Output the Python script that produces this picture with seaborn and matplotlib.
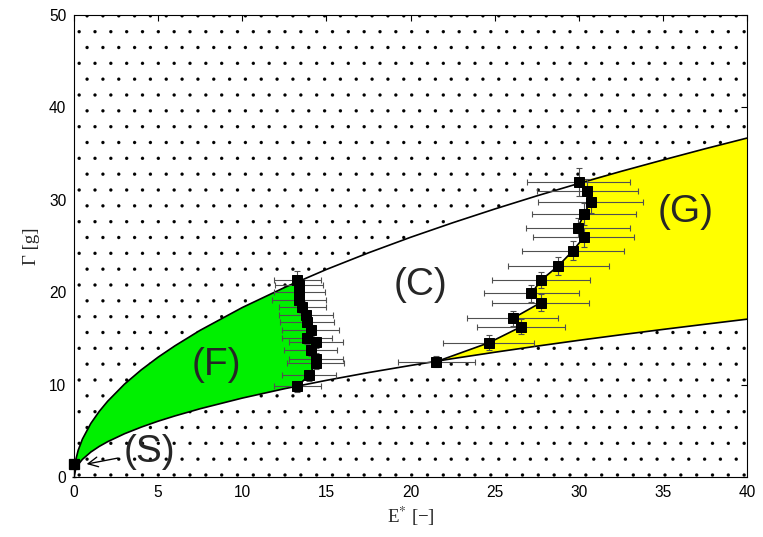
import numpy as np
import matplotlib
matplotlib.use("Agg")
import matplotlib.pyplot as plt
import seaborn as sns

# Boundary curves of the regime band (Gamma vs E*)
x_curve = [0, 0.1, 0.25, 0.5, 1, 1.5, 2, 3, 4, 5, 6, 7.5, 10, 12.5, 15, 17.5,
           20, 22.5, 25, 27.5, 30, 32.5, 35, 37.5, 40]
upper_curve = [0, 1.83, 2.9, 4.1, 5.8, 7.1, 8.2, 10.05, 11.6, 12.97, 14.2, 15.88,
               18.34, 20.5, 22.46, 24.26, 25.94, 27.51, 29.0, 30.42, 31.77,
               33.07, 34.31, 35.52, 36.68]
lower_curve = [0, 0.85, 1.35, 1.91, 2.7, 3.31, 3.82, 4.68, 5.4, 6.04, 6.61, 7.39,
               8.54, 9.55, 10.46, 11.3, 12.07, 12.81, 13.5, 14.16, 14.79, 15.39,
               15.97, 16.53, 17.08]

# F/C transition measurements (top to bottom)
x_fc = [13.27, 13.37, 13.40, 13.37, 13.57, 13.77, 13.86, 14.06, 13.86, 14.36,
        14.06, 14.36, 14.36, 13.96, 13.27]
y_fc = [21.3, 20.8, 20.05, 19.2, 18.4, 17.5, 16.8, 15.9, 15.0, 14.6, 13.7,
        12.8, 12.3, 11.0, 9.8]
xerr_fc = [1.4, 1.4, 1.5, 1.6, 1.4, 1.6, 1.6, 1.7, 1.5, 1.6, 1.6, 1.6, 1.7, 1.6, 1.4]
yerr_fc = [1.0, 0.6, 0.6, 0.6, 0.6, 0.6, 0.6, 0.6, 0.6, 0.6, 0.6, 0.6, 0.6, 0.6, 0.6]

# C/G transition measurements (bottom to top)
x_cg = [21.53, 24.66, 26.58, 26.08, 27.73, 27.19, 27.77, 28.78, 29.65, 30.30,
        29.95, 30.32, 30.70, 30.50, 30.00]
y_cg = [12.48, 14.53, 16.27, 17.17, 18.86, 19.88, 21.32, 22.84, 24.49, 25.94,
        27.0, 28.46, 29.8, 30.9, 31.96]
xerr_cg = [2.3, 2.7, 2.6, 2.7, 2.9, 2.8, 2.9, 3.0, 3.05, 3.0, 3.1, 3.1, 3.1, 3.0, 3.05]
yerr_cg = [0.6, 0.8, 0.8, 0.8, 0.9, 0.9, 0.9, 1.0, 1.0, 1.0, 1.0, 1.2, 1.2, 1.3, 1.5]

# Solid regime point
x_s = [0.0]
y_s = [1.4]

region_labels = ["(F)", "(C)", "(G)", "(S)"]
region_pos = [(8.45, 12.1), (20.6, 20.8), (36.35, 28.7), (4.47, 2.7)]

sns.set_theme(style="white")
plt.rcParams["font.family"] = ["Liberation Sans", "DejaVu Sans"]
plt.rcParams["mathtext.fontset"] = "stix"
plt.rcParams["hatch.linewidth"] = 0.1
plt.rcParams["hatch.color"] = "black"

# the stipple spacing follows the figure dpi; sizes below are given for 80 dpi
DPI = 95
S = 80 / DPI

fig = plt.figure(figsize=(763 / DPI, 537 / DPI), dpi=DPI)
ax = fig.add_axes([74 / 763, 60 / 537, 673 / 763, 462 / 537])

xc = np.array(x_curve)
up = np.array(upper_curve)
lo = np.array(lower_curve)

# stippled areas outside the band
ax.fill_between(xc, up, 50, facecolor="white", edgecolor="black",
                hatch=".", linewidth=0, zorder=0)
ax.fill_between(xc, 0, lo, facecolor="white", edgecolor="black",
                hatch=".", linewidth=0, zorder=0)

# (F) region: between curves, left of the F/C transition
xf = np.array(x_fc)
yf = np.array(y_fc)
m_left = xc < xf.min()
green_x = np.concatenate([xc[m_left], xf[::-1], xc[m_left][::-1]])
green_y = np.concatenate([lo[m_left], yf[::-1], up[m_left][::-1]])
ax.fill(green_x, green_y, color="#00f000", linewidth=0, zorder=1)

# (G) region: between curves, right of the C/G transition
xg = np.array(x_cg)
yg = np.array(y_cg)
m_up = xc > xg[-1]
m_lo = xc > xg[0]
yel_x = np.concatenate([xg, xc[m_up], xc[m_lo][::-1]])
yel_y = np.concatenate([yg, up[m_up], lo[m_lo][::-1]])
ax.fill(yel_x, yel_y, color="#ffff00", linewidth=0, zorder=1)

# boundary curves
sns.lineplot(x=x_curve, y=upper_curve, color="black", linewidth=1.5 * S,
             sort=False, estimator=None, ax=ax, zorder=3)
sns.lineplot(x=x_curve, y=lower_curve, color="black", linewidth=1.5 * S,
             sort=False, estimator=None, ax=ax, zorder=3)

# measured transitions with error bars
for xs, ys, xe, ye in [(x_fc, y_fc, xerr_fc, yerr_fc), (x_cg, y_cg, xerr_cg, yerr_cg)]:
    ax.errorbar(xs, ys, xerr=xe, yerr=ye, fmt="none", ecolor="#505050",
                elinewidth=1.0 * S, capsize=3 * S, capthick=1.0 * S, zorder=4)
    sns.lineplot(x=xs, y=ys, color="black", linewidth=1.5 * S, marker="s",
                 markersize=8.5 * S, markeredgecolor="black", sort=False,
                 estimator=None, ax=ax, zorder=5)

ax.errorbar(x_s, y_s, yerr=[[1.4], [0.4]], fmt="s", color="black", ms=9.5 * S,
            elinewidth=1.2 * S, capsize=2 * S, zorder=6, clip_on=False)

# region labels
for lab, (lx, ly) in zip(region_labels[:3], region_pos[:3]):
    ax.text(lx, ly, lab, fontsize=35 * S, ha="center", va="center", zorder=7)
ax.annotate(region_labels[3], xy=(0.75, 1.4), xytext=region_pos[3],
            fontsize=35 * S, ha="center", va="center", zorder=7,
            arrowprops=dict(arrowstyle="->", color="black", lw=1.2 * S,
                            shrinkA=2, shrinkB=0, mutation_scale=22 * S))

ax.set_xlim(0, 40)
ax.set_ylim(0, 50)
ax.set_xticks([0, 5, 10, 15, 20, 25, 30, 35, 40])
ax.set_yticks([0, 10, 20, 30, 40, 50])
ax.tick_params(direction="in", top=True, right=True, length=5 * S, width=1 * S,
               labelsize=14 * S, pad=7 * S, colors="black")
for sp in ax.spines.values():
    sp.set_color("black")
    sp.set_linewidth(1 * S)

ax.set_xlabel(r"E$^{*}$ [−]", fontsize=17 * S, family=["Liberation Serif"],
              labelpad=4 * S)
ax.set_ylabel(r"Γ [g]", fontsize=17 * S, family=["Liberation Serif"],
              labelpad=8 * S)

fig.savefig("out.png", dpi=DPI)
